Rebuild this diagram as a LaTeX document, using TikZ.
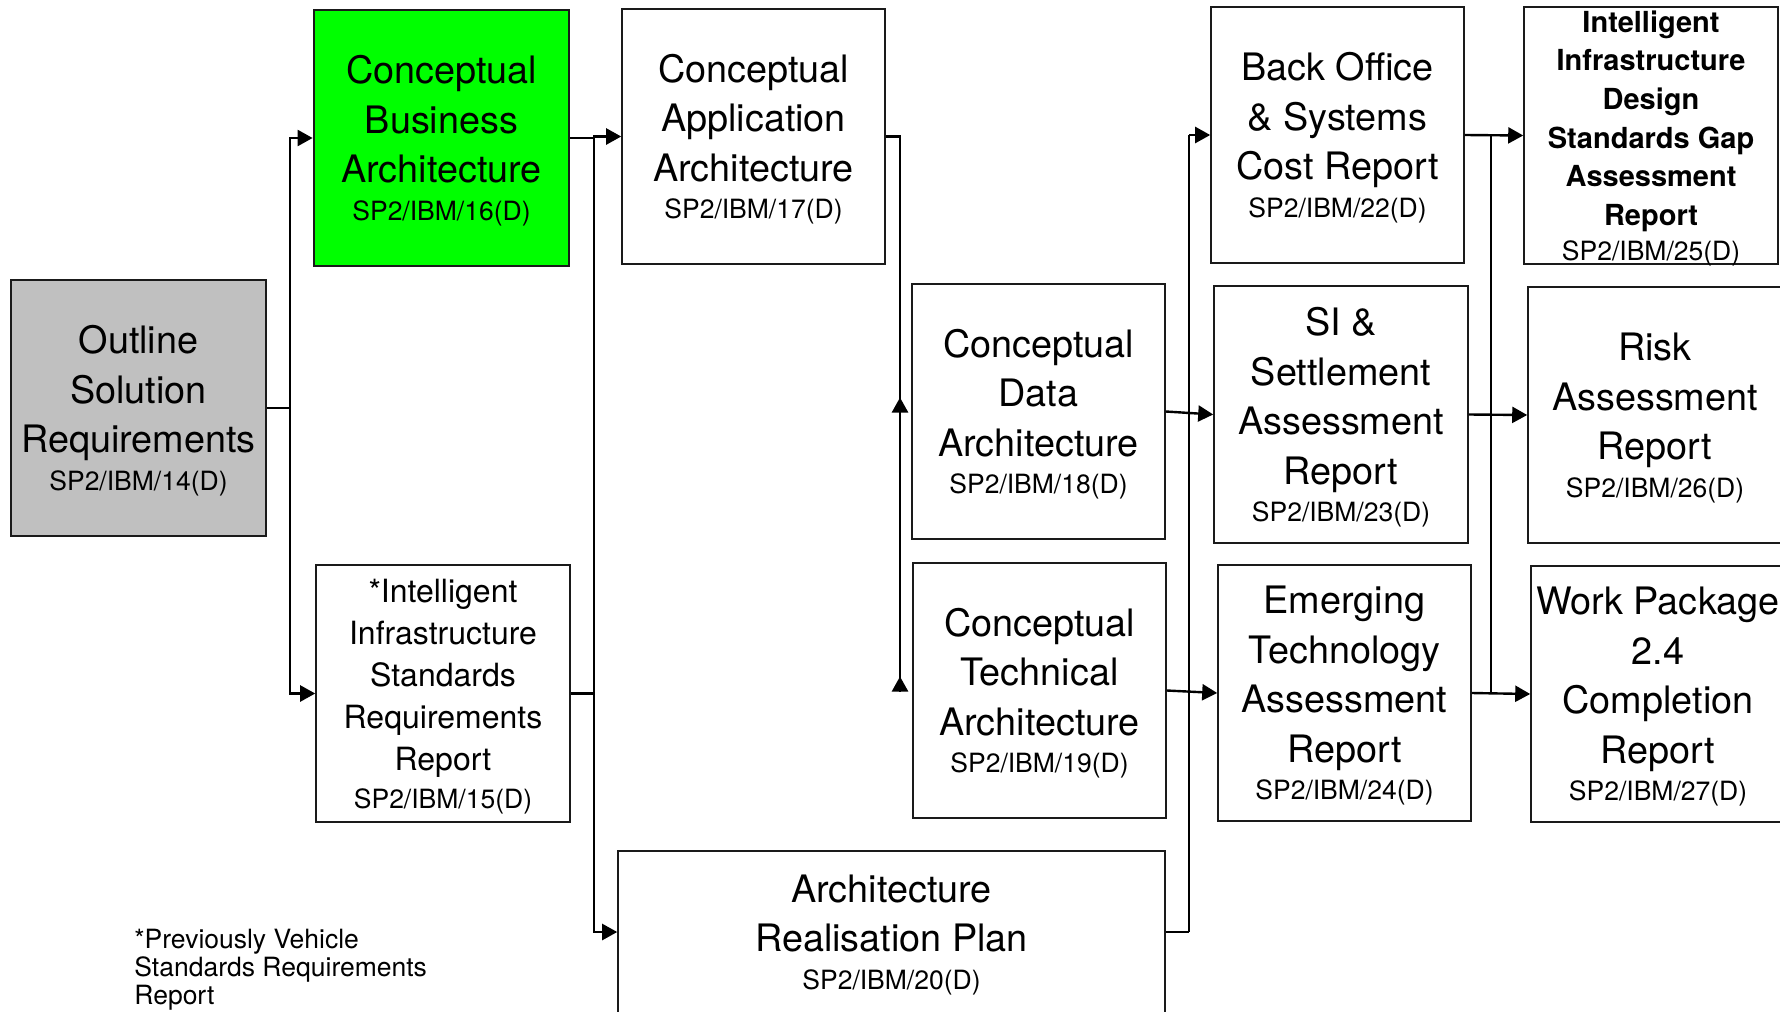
\documentclass[tikz,border=0pt]{standalone}
\usepackage{fontspec}
\setmainfont{TeX Gyre Heros}
\usetikzlibrary{arrows.meta}

% type sizes used in the chart
\newcommand\mainsz{\fontsize{18.9}{24.75}\selectfont}
\newcommand\midsz{\fontsize{16}{21.1}\selectfont}
\newcommand\boldsz{\fontsize{14.5}{19.3}\selectfont\bfseries}
\newcommand\codesz{\fontsize{13.25}{15.6}\selectfont\mdseries}
\newcommand\notesz{\fontsize{13.25}{14}\selectfont}
% document reference line, set without depth so the title block sits centred
\newcommand\docref[1]{{\codesz\raisebox{0pt}[\height][0pt]{#1}}}

\definecolor{greyfill}{HTML}{C0C0C0}
\definecolor{doneclr}{HTML}{00FF00}
\definecolor{edge}{HTML}{1A1A1A}

\tikzset{
  wh/.style 2 args={minimum width={#1*0.5pt}, minimum height={#2*0.5pt}},
  box/.style={draw=edge, line width=0.8pt, rectangle, inner sep=0pt,
              align=center, font=\mainsz},
  conn/.style={draw=black, line width=1.2pt, line join=miter},
  arr/.style={conn, -{Triangle[length=7.5pt, width=8pt]}},
}

\begin{document}
\begin{tikzpicture}[x=0.5pt, y=-0.5pt]
  \useasboundingbox (0,0) rectangle (1780,1011);
  \clip (0,0) rectangle (1780,1011);

  % deliverables
  \node[box, wh={255}{256}, fill=greyfill] (osr) at (138.5,408)
    {Outline\\Solution\\Requirements\\[-6pt]\docref{SP2/IBM/14(D)}};
  \node[box, wh={255}{256}, fill=doneclr, line width=1.4pt] (cba) at (441.5,138)
    {Conceptual\\Business\\Architecture\\[-6pt]\docref{SP2/IBM/16(D)}};
  \node[box, wh={254}{257}, font=\midsz] (iisrr) at (443,693.5)
    {*Intelligent\\Infrastructure\\Standards\\Requirements\\Report\\[-2.5pt]\docref{SP2/IBM/15(D)}};
  \node[box, wh={263}{255}] (caa) at (753.5,136.5)
    {Conceptual\\Application\\Architecture\\[-6pt]\docref{SP2/IBM/17(D)}};
  \node[box, wh={547}{162}] (arp) at (891.5,932)
    {Architecture\\Realisation Plan\\[-6pt]\docref{SP2/IBM/20(D)}};
  \node[box, wh={253}{255}] (cda) at (1038.5,411.5)
    {Conceptual\\Data\\Architecture\\[-6pt]\docref{SP2/IBM/18(D)}};
  \node[box, wh={253}{255}] (cta) at (1039.5,690.5)
    {Conceptual\\Technical\\Architecture\\[-6pt]\docref{SP2/IBM/19(D)}};
  \node[box, wh={253}{256}] (bo) at (1337.5,135)
    {Back Office\\\& Systems\\Cost Report\\[-6pt]\docref{SP2/IBM/22(D)}};
  \node[box, wh={254}{257}] (si) at (1341,414.5)
    {SI \&\\Settlement\\Assessment\\Report\\[-6pt]\docref{SP2/IBM/23(D)}};
  \node[box, wh={253}{256}] (etar) at (1344.5,693)
    {Emerging\\Technology\\Assessment\\Report\\[-6pt]\docref{SP2/IBM/24(D)}};
  \node[box, wh={254}{257}, font=\boldsz] (iid) at (1651,135.5)
    {Intelligent\\Infrastructure\\Design\\Standards Gap\\Assessment\\Report\\[-1.8pt]\docref{SP2/IBM/25(D)}};
  \node[box, wh={254}{256}] (risk) at (1655,415)
    {Risk\\Assessment\\Report\\[-6pt]\docref{SP2/IBM/26(D)}};
  \node[box, wh={254}{256}] (wp) at (1658,694)
    {Work Package\\2.4\\Completion\\Report\\[-6pt]\docref{SP2/IBM/27(D)}};

  % footnote
  \node[anchor=north west, align=left, inner sep=0pt, font=\notesz] (note) at (134,929)
    {*Previously Vehicle\\Standards Requirements\\Report};

  % bus lines
  \coordinate (b1) at (290,0);
  \coordinate (b2) at (594,0);
  \coordinate (b3) at (900,0);
  \coordinate (b4) at (1189,0);
  \coordinate (b5) at (1491,0);

  % outline requirements feed the two first-stage deliverables
  \draw[conn] (osr.east) -- (b1 |- osr.east);
  \draw[arr] (b1 |- osr.east) |- (cba.west);
  \draw[arr] (b1 |- osr.east) |- (iisrr.west);

  % business architecture and standards report feed application and plan
  \draw[conn] (cba.east) -- (b2 |- cba.east);
  \draw[conn] (iisrr.east) -- (b2 |- iisrr.east);
  \draw[arr] (b2 |- cba.east) |- (caa.west);
  \draw[arr] (b2 |- cba.east) |- (arp.west);

  % application architecture feeds data and technical architecture
  \draw[conn] (caa.east) -- (b3 |- caa.east) -- (b3 |- cta.west);
  \draw[arr] (b3 |- cda.west) -- ++(0,-14);
  \draw[arr] (b3 |- cta.west) -- ++(0,-14);

  % architectures and plan feed the assessment reports
  \draw[arr] (cda.east) -- (si.west);
  \draw[arr] (cta.east) -- (etar.west);
  \draw[conn] (arp.east) -- (b4 |- arp.east);
  \draw[conn] (b4 |- arp.east) -- (b4 |- bo.west);
  \draw[arr] (b4 |- bo.west) -- (bo.west);

  % reports feed the final deliverables
  \draw[arr] (bo.east) -- (iid.west);
  \draw[arr] (si.east) -- (risk.west);
  \draw[arr] (etar.east) -- (wp.west);
  \draw[conn] (b5 |- bo.east) -- (b5 |- etar.east);
\end{tikzpicture}
\end{document}
